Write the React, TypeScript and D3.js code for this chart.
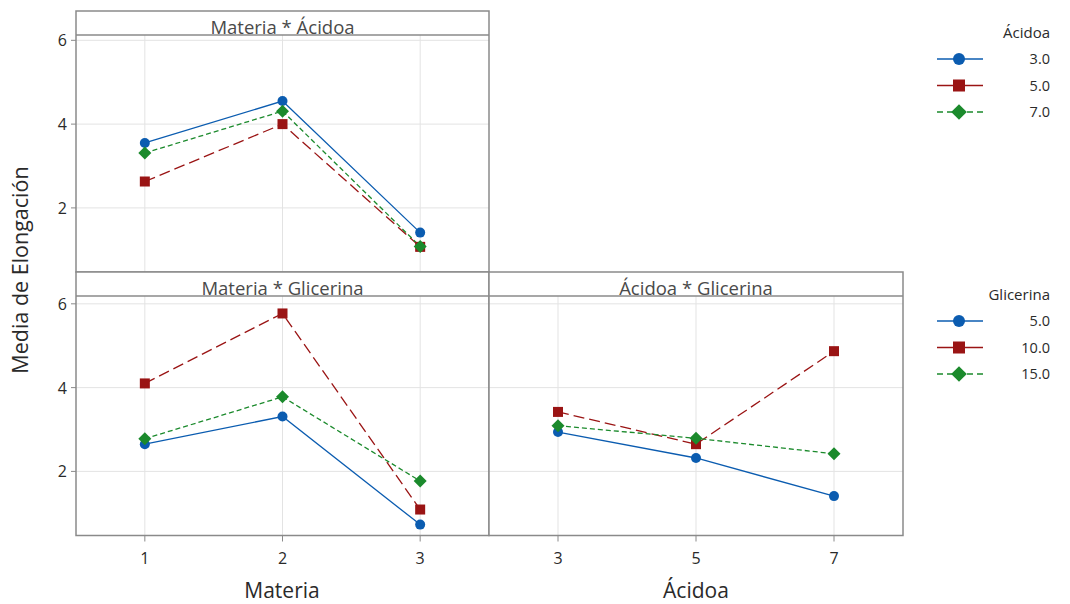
import React from "react";
import * as d3 from "d3";

const materiaLevels = [1, 2, 3];
const acidoaLevels = [3, 5, 7];
const acidoaLabels = ["3.0", "5.0", "7.0"];
const glicerinaLabels = ["5.0", "10.0", "15.0"];
const yTicks = [2, 4, 6];

// Materia * Ácidoa (series by Ácidoa)
const matAcid3 = [3.55, 4.55, 1.41];
const matAcid5 = [2.63, 4.0, 1.07];
const matAcid7 = [3.31, 4.31, 1.08];
// Materia * Glicerina (series by Glicerina)
const matGlic5 = [2.65, 3.31, 0.73];
const matGlic10 = [4.1, 5.77, 1.09];
const matGlic15 = [2.78, 3.78, 1.77];
// Ácidoa * Glicerina (series by Glicerina)
const acidGlic5 = [2.94, 2.32, 1.41];
const acidGlic10 = [3.42, 2.65, 4.87];
const acidGlic15 = [3.09, 2.79, 2.42];

const COLORS = ["#0b5cb0", "#9a1414", "#1b8a2c"];
const DASH = [undefined, "11,5", "5,3"];
const FONT = "'Open Sans', 'Noto Sans', sans-serif";
const BORDER = "#8a8a8a";
const GRID = "#e3e3e3";
const TXT = "#2a2a2a";

function Marker({ kind, x, y, color, s = 1 }: { kind: number; x: number; y: number; color: string; s?: number }) {
  if (kind === 0) return <circle cx={x} cy={y} r={5 * s} fill={color} />;
  if (kind === 1) return <rect x={x - 5 * s} y={y - 5 * s} width={10 * s} height={10 * s} fill={color} />;
  const d = 6.5 * s;
  return <path d={`M${x},${y - d}L${x + d},${y}L${x},${y + d}L${x - d},${y}Z`} fill={color} />;
}

function Panel({
  x0, x1, y0, y1, title, xs, ys, xVals, series, showY, xTickLabels,
}: {
  x0: number; x1: number; y0: number; y1: number; title: string;
  xs: d3.ScaleLinear<number, number>; ys: d3.ScaleLinear<number, number>;
  xVals: number[]; series: number[][]; showY: boolean; xTickLabels?: string[];
}) {
  const headerH = 24;
  const line = d3.line<number>().x((_, i) => xs(xVals[i])).y((d) => ys(d));
  return (
    <g>
      <rect x={x0} y={y0} width={x1 - x0} height={y1 - y0} fill="white" />
      {xVals.map((v) => (
        <line key={"gx" + v} x1={xs(v)} x2={xs(v)} y1={y0 + headerH} y2={y1} stroke={GRID} strokeWidth={1} />
      ))}
      {yTicks.map((t) => (
        <line key={"gy" + t} x1={x0} x2={x1} y1={ys(t)} y2={ys(t)} stroke={GRID} strokeWidth={1} />
      ))}
      {series.map((s, k) => (
        <path key={"l" + k} d={line(s) || ""} fill="none" stroke={COLORS[k]} strokeWidth={1.3} strokeDasharray={DASH[k]} />
      ))}
      {series.map((s, k) =>
        s.map((v, i) => <Marker key={"m" + k + i} kind={k} x={xs(xVals[i])} y={ys(v)} color={COLORS[k]} />)
      )}
      <rect x={x0} y={y0} width={x1 - x0} height={headerH} fill="white" stroke="none" />
      <text x={(x0 + x1) / 2} y={y0 + 23} textAnchor="middle" fontSize={18.5} fill="#4a4a4a" fontFamily={FONT}>
        {title}
      </text>
      <line x1={x0} x2={x1} y1={y0 + headerH} y2={y0 + headerH} stroke={BORDER} strokeWidth={1.5} />
      <rect x={x0} y={y0} width={x1 - x0} height={y1 - y0} fill="none" stroke={BORDER} strokeWidth={1.5} />
      {showY &&
        yTicks.map((t) => (
          <g key={"yt" + t}>
            <line x1={x0 - 5} x2={x0} y1={ys(t)} y2={ys(t)} stroke={BORDER} />
            <text x={x0 - 9} y={ys(t) + 6} textAnchor="end" fontSize={16} fill={TXT} fontFamily={FONT}>
              {t}
            </text>
          </g>
        ))}
      {xTickLabels &&
        xVals.map((v, i) => (
          <g key={"xt" + v}>
            <line x1={xs(v)} x2={xs(v)} y1={y1} y2={y1 + 6} stroke={BORDER} />
            <text x={xs(v)} y={y1 + 28} textAnchor="middle" fontSize={16} fill={TXT} fontFamily={FONT}>
              {xTickLabels[i]}
            </text>
          </g>
        ))}
    </g>
  );
}

function Legend({ x, y, title, labels }: { x: number; y: number; title: string; labels: string[] }) {
  return (
    <g>
      <text x={x + 113} y={y} textAnchor="end" fontSize={15} fill={TXT} fontFamily={FONT}>{title}</text>
      {labels.map((l, k) => {
        const yy = y + 21 + k * 26.5;
        return (
          <g key={l}>
            <line x1={x} x2={x + 46} y1={yy} y2={yy} stroke={COLORS[k]} strokeWidth={1.5}
              strokeDasharray={k === 2 ? "6,4" : undefined} />
            <Marker kind={k} x={x + 22} y={yy} color={COLORS[k]} s={1.2} />
            <text x={x + 113} y={yy + 5} textAnchor="end" fontSize={14.5} fill={TXT} fontFamily={FONT}>{l}</text>
          </g>
        );
      })}
    </g>
  );
}

export default function App() {
  const W = 1070, H = 604;
  const xMat = d3.scaleLinear().domain([0.5, 3.5]).range([76, 489]);
  const xAcid = d3.scaleLinear().domain([2, 8]).range([489, 903]);
  const yDom = [0.47, 6.7];
  const yTop = d3.scaleLinear().domain(yDom).range([272, 11]);
  const yBot = d3.scaleLinear().domain(yDom).range([535.5, 274.5]);
  return (
    <svg width={W} height={H} style={{ position: "absolute", left: 0, top: 0, background: "white" }}>
      <rect width={W} height={H} fill="white" />
      <Panel x0={76} x1={489} y0={11} y1={272} title="Materia * Ácidoa" xs={xMat} ys={yTop}
        xVals={materiaLevels} series={[matAcid3, matAcid5, matAcid7]} showY />
      <Panel x0={76} x1={489} y0={272} y1={535.5} title="Materia * Glicerina" xs={xMat} ys={yBot}
        xVals={materiaLevels} series={[matGlic5, matGlic10, matGlic15]} showY
        xTickLabels={materiaLevels.map(String)} />
      <Panel x0={489} x1={903} y0={272} y1={535.5} title="Ácidoa * Glicerina" xs={xAcid} ys={yBot}
        xVals={acidoaLevels} series={[acidGlic5, acidGlic10, acidGlic15]} showY={false}
        xTickLabels={acidoaLevels.map(String)} />
      <text x={282} y={598} textAnchor="middle" fontSize={21} fill={TXT} fontFamily={FONT}>Materia</text>
      <text x={696} y={598} textAnchor="middle" fontSize={21} fill={TXT} fontFamily={FONT}>Ácidoa</text>
      <text transform="translate(28,270) rotate(-90)" textAnchor="middle" fontSize={21.5} fill={TXT} fontFamily={FONT}>
        Media de Elongación
      </text>
      <Legend x={937} y={38} title="Ácidoa" labels={acidoaLabels} />
      <Legend x={937} y={300} title="Glicerina" labels={glicerinaLabels} />
    </svg>
  );
}
